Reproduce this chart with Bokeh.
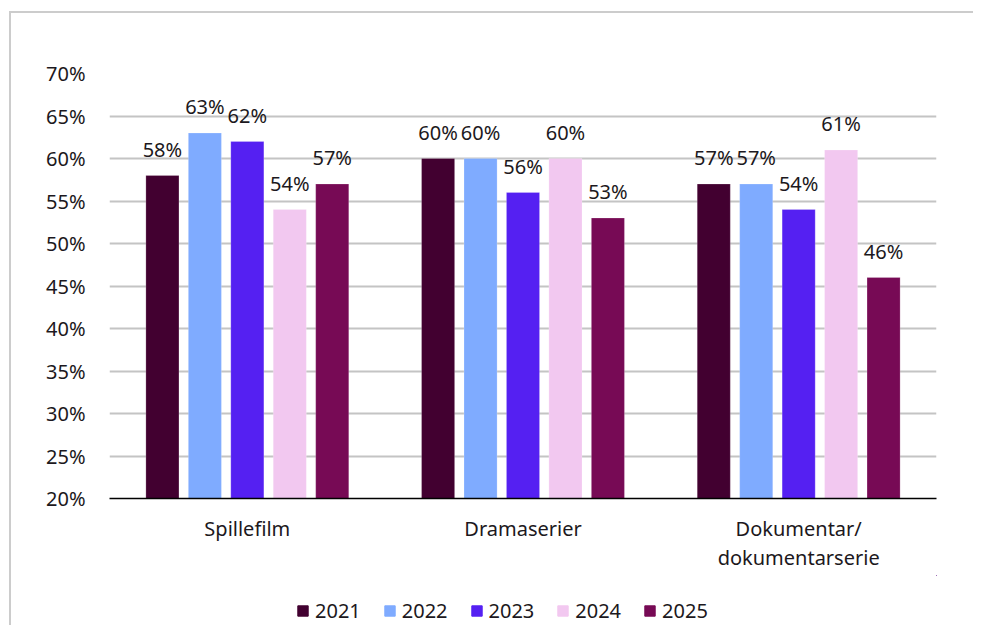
from bokeh.plotting import figure
from bokeh.layouts import column
from bokeh.models import (ColumnDataSource, Legend, LegendItem, NumeralTickFormatter,
                          FixedTicker, Range1d)
from bokeh.transform import dodge
from bokeh.core.properties import value
from bokeh.embed import file_html
from bokeh.resources import INLINE

categories = ["Spillefilm", "Dramaserier", "Dokumentar/\ndokumentarserie"]
years = ["2021", "2022", "2023", "2024", "2025"]
v2021 = [0.58, 0.60, 0.57]
v2022 = [0.63, 0.60, 0.57]
v2023 = [0.62, 0.56, 0.54]
v2024 = [0.54, 0.60, 0.61]
v2025 = [0.57, 0.53, 0.46]
series = [v2021, v2022, v2023, v2024, v2025]
colors = ["#420030", "#7FABFF", "#5520F2", "#F2C8F0", "#770A55"]
yticks = [0.20, 0.25, 0.30, 0.35, 0.40, 0.45, 0.50, 0.55, 0.60, 0.65, 0.70]

FONT = "Noto Sans"
TXT = "#1c1820"

p = figure(x_range=categories, y_range=(0.2, 0.7), width=962, height=562,
           output_backend="svg", toolbar_location=None,
           min_border_left=98, min_border_top=60, min_border_right=37, min_border_bottom=77)
p.outline_line_color = None
p.xgrid.grid_line_color = None
p.ygrid.grid_line_color = "#c4c4c4"
p.ygrid.grid_line_width = 2
p.yaxis.ticker = FixedTicker(ticks=yticks)
p.yaxis.formatter = NumeralTickFormatter(format="0%")
p.yaxis.axis_line_color = None
p.yaxis.major_tick_line_color = None
p.yaxis.minor_tick_line_color = None
p.yaxis.major_label_standoff = 18
p.yaxis.major_label_text_font = FONT
p.yaxis.major_label_text_font_size = "20px"
p.yaxis.major_label_text_color = TXT
p.xaxis.axis_line_color = "#000000"
p.xaxis.axis_line_width = 1.5
p.xaxis.major_tick_line_color = None
p.xaxis.minor_tick_line_color = None
p.xaxis.major_label_standoff = 10
p.xaxis.major_label_text_font = FONT
p.xaxis.major_label_text_font_size = "20px"
p.xaxis.major_label_text_color = TXT
p.xaxis.major_label_text_line_height = 1.1

offsets = [-0.308, -0.154, 0.0, 0.154, 0.308]
for yr, vals, col, off in zip(years, series, colors, offsets):
    src = ColumnDataSource(dict(cat=categories, val=vals,
                                lbl=[f"{round(v*100)}%" for v in vals]))
    p.vbar(x=dodge("cat", off, range=p.x_range), top="val", bottom=0.2, width=0.12,
           source=src, fill_color=col, line_color="#ffffff", line_width=0.5, line_alpha=0.4)
    p.text(x=dodge("cat", off, range=p.x_range), y="val", text="lbl", source=src,
           text_align="center", text_baseline="bottom", y_offset=-13,
           text_font=value(FONT), text_font_size="20px", text_color=TXT)

# legend strip (swatch renderers sit far outside the visible range)
lg = figure(width=962, height=50, x_range=Range1d(0, 1), y_range=Range1d(0, 1),
            output_backend="svg", toolbar_location=None,
            min_border_left=0, min_border_right=0, min_border_top=0, min_border_bottom=0)
lg.axis.visible = False
lg.grid.visible = False
lg.outline_line_color = None
items = []
for yr, col in zip(years, colors):
    r = lg.vbar(x=[1000], top=[1001], bottom=[1000], width=0.1, fill_color=col, line_color=col)
    items.append(LegendItem(label=yr, renderers=[r]))
legend = Legend(items=items, orientation="horizontal", location=(187, 1),
                glyph_width=13, glyph_height=13, label_standoff=6, spacing=22,
                padding=0, margin=0, border_line_color=None, background_fill_alpha=0,
                label_text_font=FONT, label_text_font_size="20px", label_text_color=TXT)
lg.add_layout(legend, "center")

layout = column(p, lg, spacing=0)
layout.styles = {"border-left": "2px solid #cccccc", "border-top": "2px solid #cccccc",
                 "border-right": "none", "border-bottom": "none",
                 "margin-top": "11px", "margin-left": "9px"}

open("out.html", "w").write(file_html(layout, INLINE))
